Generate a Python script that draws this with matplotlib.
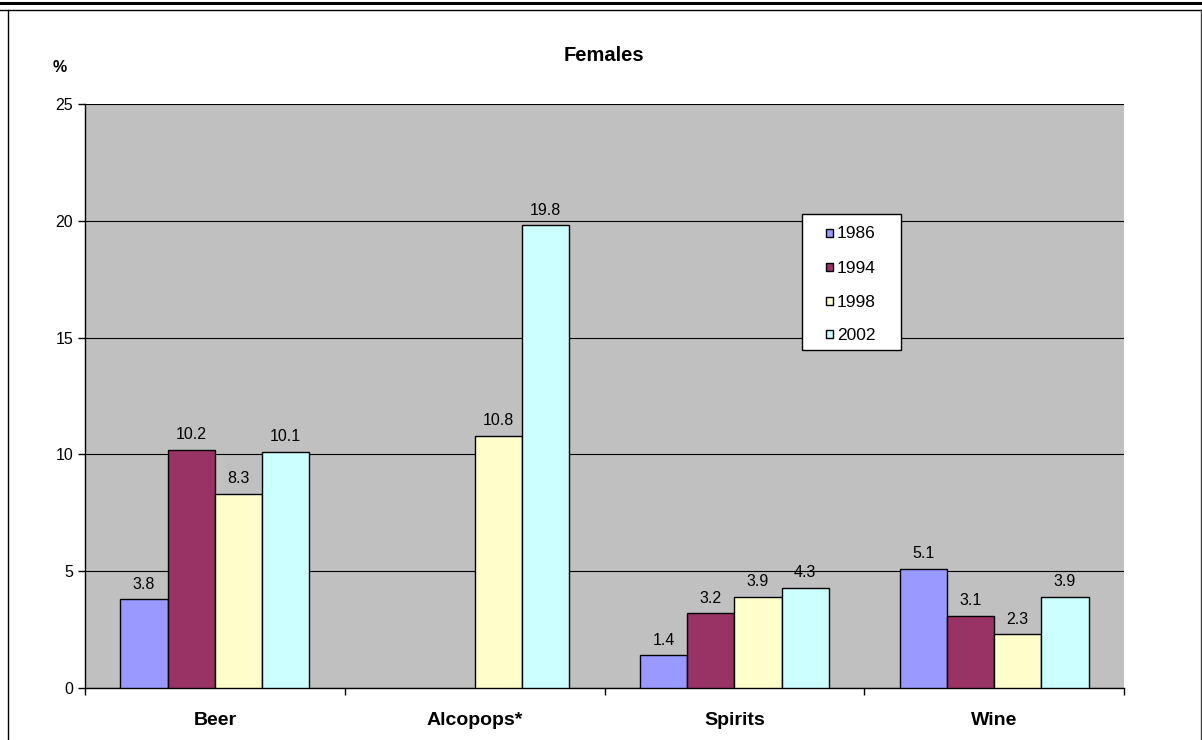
import matplotlib
matplotlib.use("Agg")
import matplotlib.pyplot as plt
from matplotlib.lines import Line2D
from matplotlib.patches import Rectangle
import numpy as np

plt.rcParams['font.family'] = ['Liberation Sans', 'DejaVu Sans']

categories = ["Beer", "Alcopops*", "Spirits", "Wine"]
years = ["1986", "1994", "1998", "2002"]
v1986 = [3.8, np.nan, 1.4, 5.1]
v1994 = [10.2, np.nan, 3.2, 3.1]
v1998 = [8.3, 10.8, 3.9, 2.3]
v2002 = [10.1, 19.8, 4.3, 3.9]
series = [v1986, v1994, v1998, v2002]
colors = ["#9999FF", "#993366", "#FFFFCC", "#CCFFFF"]
yticks = [0, 5, 10, 15, 20, 25]

W, H = 1202, 740
fig = plt.figure(figsize=(W / 100, H / 100), dpi=100)
ax = fig.add_axes([85 / W, 1 - 688 / H, (1124 - 85) / W, (688 - 104) / H])
ax.set_facecolor("#C0C0C0")

x = np.arange(len(categories))
bw = 1 / 5.5
for i, (vals, c, yr) in enumerate(zip(series, colors, years)):
    pos = x + (i - 1.5) * bw
    ax.bar(pos, vals, width=bw, color=c, edgecolor="black", linewidth=1, label=yr, zorder=3)
    for p, v in zip(pos, vals):
        if not np.isnan(v):
            ax.annotate(f"{v:.1f}", (p, v), xytext=(0, 5.5), textcoords="offset points",
                        ha="center", va="bottom", fontsize=11.5, zorder=4)

ax.set_xlim(-0.5, 3.5)
ax.set_ylim(0, 25)
ax.set_yticks(yticks)
ax.yaxis.grid(True, color="black", linewidth=0.8, zorder=1)
ax.set_axisbelow(True)
ax.tick_params(axis="y", direction="out", length=5, width=1, labelsize=11.5, pad=3.5)
ax.set_xticks(x)
ax.set_xticklabels(categories, fontsize=14, fontweight="bold")
ax.set_xticks(np.arange(-0.5, 4, 1), minor=True)
ax.tick_params(axis="x", which="major", length=0, pad=17.5)
ax.tick_params(axis="x", which="minor", direction="out", length=5, width=1)
for s in ["top", "right"]:
    ax.spines[s].set_visible(False)
for s in ["left", "bottom"]:
    ax.spines[s].set_linewidth(1)
    ax.spines[s].set_color("black")

fig.text(604 / W, 1 - 55.5 / H, "Females", ha="center", va="center", fontsize=14.5, fontweight="bold")
fig.text(60 / W, 1 - 67 / H, "%", ha="center", va="center", fontsize=11.5, fontweight="bold")

# legend box drawn by hand to match the reference frame
fig.add_artist(Rectangle((801.5 / W, 1 - 350 / H), 99 / W, 136 / H, transform=fig.transFigure,
                         facecolor="white", edgecolor="black", linewidth=1, zorder=10))
row_y = [232.5, 267, 301, 334]
for yr, c, ry in zip(years, colors, row_y):
    fig.add_artist(Rectangle((826 / W, 1 - (ry + 4) / H), 7 / W, 8 / H, transform=fig.transFigure,
                             facecolor=c, edgecolor="black", linewidth=1, zorder=11))
    fig.text(837 / W, 1 - (ry + 6) / H, yr, ha="left", va="baseline", fontsize=12.5, zorder=12)

# outer frame lines
fig.add_artist(Line2D([0, 1], [1 - 2.5 / H, 1 - 2.5 / H], transform=fig.transFigure, color="black", linewidth=2.2))
fig.add_artist(Line2D([0, 1], [1 - 9.5 / H, 1 - 9.5 / H], transform=fig.transFigure, color="black", linewidth=1))
fig.add_artist(Line2D([8 / W, 8 / W], [0, 1 - 9.5 / H], transform=fig.transFigure, color="black", linewidth=1))
fig.add_artist(Line2D([1200.5 / W, 1200.5 / W], [0, 1 - 9.5 / H], transform=fig.transFigure, color="#404040", linewidth=1))

fig.savefig("out.png", dpi=100)
